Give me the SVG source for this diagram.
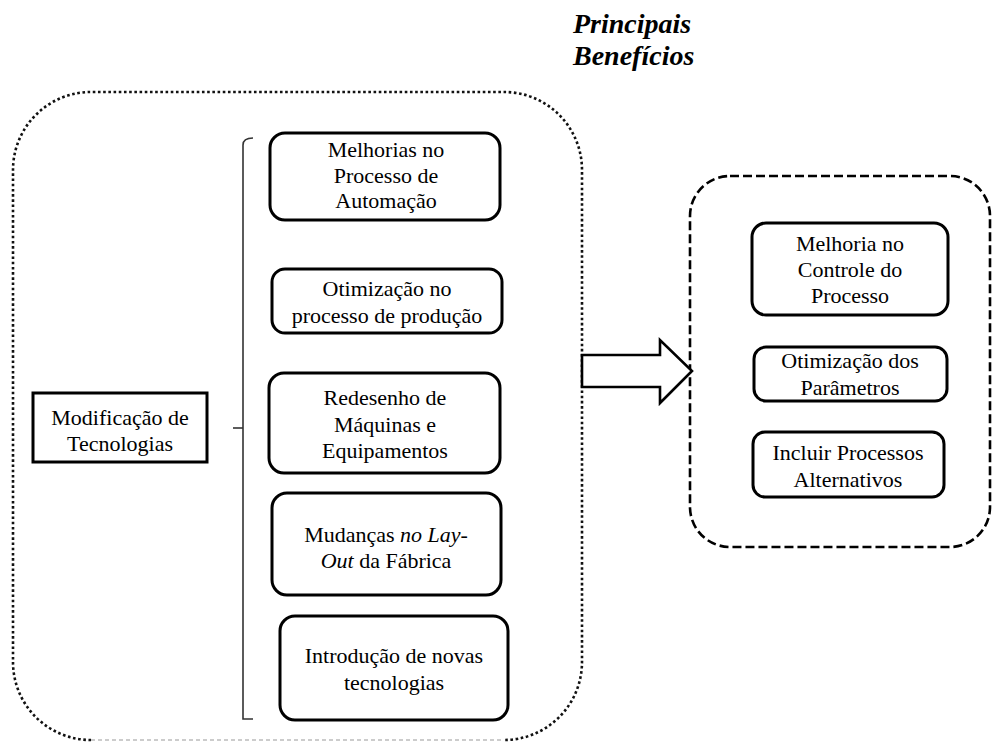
<svg xmlns="http://www.w3.org/2000/svg" width="992" height="744" viewBox="0 0 992 744" font-family="'Liberation Serif', 'DejaVu Serif', serif">
  <style>
    text { font-family: 'Liberation Serif', 'DejaVu Serif', serif; font-size: 22px; fill: #000; text-anchor: middle; }
    .title { font-size: 28px; font-weight: bold; font-style: italic; text-anchor: start; }
    .it { font-style: italic; }
    .box { fill: #fff; stroke: #000; stroke-width: 3; }
    .dotted { fill: none; stroke: #111; stroke-width: 2.6; stroke-dasharray: 2.6 2.6; }
    .thin { fill: none; stroke: #999; stroke-width: 1; stroke-dasharray: 4 3; }
    .dashed { fill: none; stroke: #000; stroke-width: 2.6; stroke-dasharray: 9 4; }
    .bracket { fill: none; stroke: #333; stroke-width: 1.6; }
  </style>

  <!-- heading -->
  <g id="heading">
    <text class="title" x="573" y="33">Principais</text>
    <text class="title" x="573" y="65">Benefícios</text>
  </g>

  <!-- containers -->
  <g id="left-group">
    <path class="dotted" d="M 91 740 A 78 78 0 0 1 13 662 V 170 A 78 78 0 0 1 91 92 H 504 A 78 78 0 0 1 582 170 V 662 A 78 78 0 0 1 504 740"/>
    <path class="thin" d="M 91 740 H 504"/>
  </g>
  <g id="right-group">
    <rect class="dashed" x="690" y="176" width="300" height="371" rx="40"/>
  </g>

  <!-- connectors -->
  <g id="connectors">
    <path class="bracket" d="M 253 138 Q 243 138 243 145 V 719 H 253"/>
    <path class="bracket" d="M 233 428 H 243"/>
    <polygon points="582,355 660,355 660,340 692,371 660,403 660,387 582,387" fill="#fff" stroke="#000" stroke-width="2.6" stroke-linejoin="miter"/>
  </g>

  <g id="modificacao">
    <rect class="box" x="33" y="393" width="174" height="69"/>
    <text x="120" y="425">Modificação de</text>
    <text x="120" y="451">Tecnologias</text>
  </g>

  <g id="melhorias">
    <rect class="box" x="270" y="133" width="230" height="87" rx="15"/>
    <text x="386" y="157">Melhorias no</text>
    <text x="386" y="183">Processo de</text>
    <text x="386" y="208">Automação</text>
  </g>

  <g id="otimizacao-producao">
    <rect class="box" x="272" y="269" width="230" height="64" rx="13"/>
    <text x="387" y="296">Otimização no</text>
    <text x="387" y="323">processo de produção</text>
  </g>

  <g id="redesenho">
    <rect class="box" x="269" y="373" width="231" height="100" rx="15"/>
    <text x="385" y="405">Redesenho de</text>
    <text x="385" y="432">Máquinas e</text>
    <text x="385" y="458">Equipamentos</text>
  </g>

  <g id="layout">
    <rect class="box" x="272" y="493" width="229" height="102" rx="15"/>
    <text x="386" y="542">Mudanças <tspan class="it">no Lay-</tspan></text>
    <text x="386" y="568"><tspan class="it">Out</tspan> da Fábrica</text>
  </g>

  <g id="novas-tecnologias">
    <rect class="box" x="280" y="616" width="228" height="104" rx="15"/>
    <text x="394" y="663">Introdução de novas</text>
    <text x="394" y="690">tecnologias</text>
  </g>

  <g id="controle">
    <rect class="box" x="752" y="223" width="196" height="92" rx="14"/>
    <text x="850" y="251">Melhoria no</text>
    <text x="850" y="277">Controle do</text>
    <text x="850" y="303">Processo</text>
  </g>

  <g id="parametros">
    <rect class="box" x="754" y="347" width="193" height="54" rx="12"/>
    <text x="850" y="368">Otimização dos</text>
    <text x="850" y="395">Parâmetros</text>
  </g>

  <g id="alternativos">
    <rect class="box" x="753" y="432" width="191" height="65" rx="12"/>
    <text x="848" y="460">Incluir Processos</text>
    <text x="848" y="487">Alternativos</text>
  </g>
</svg>
